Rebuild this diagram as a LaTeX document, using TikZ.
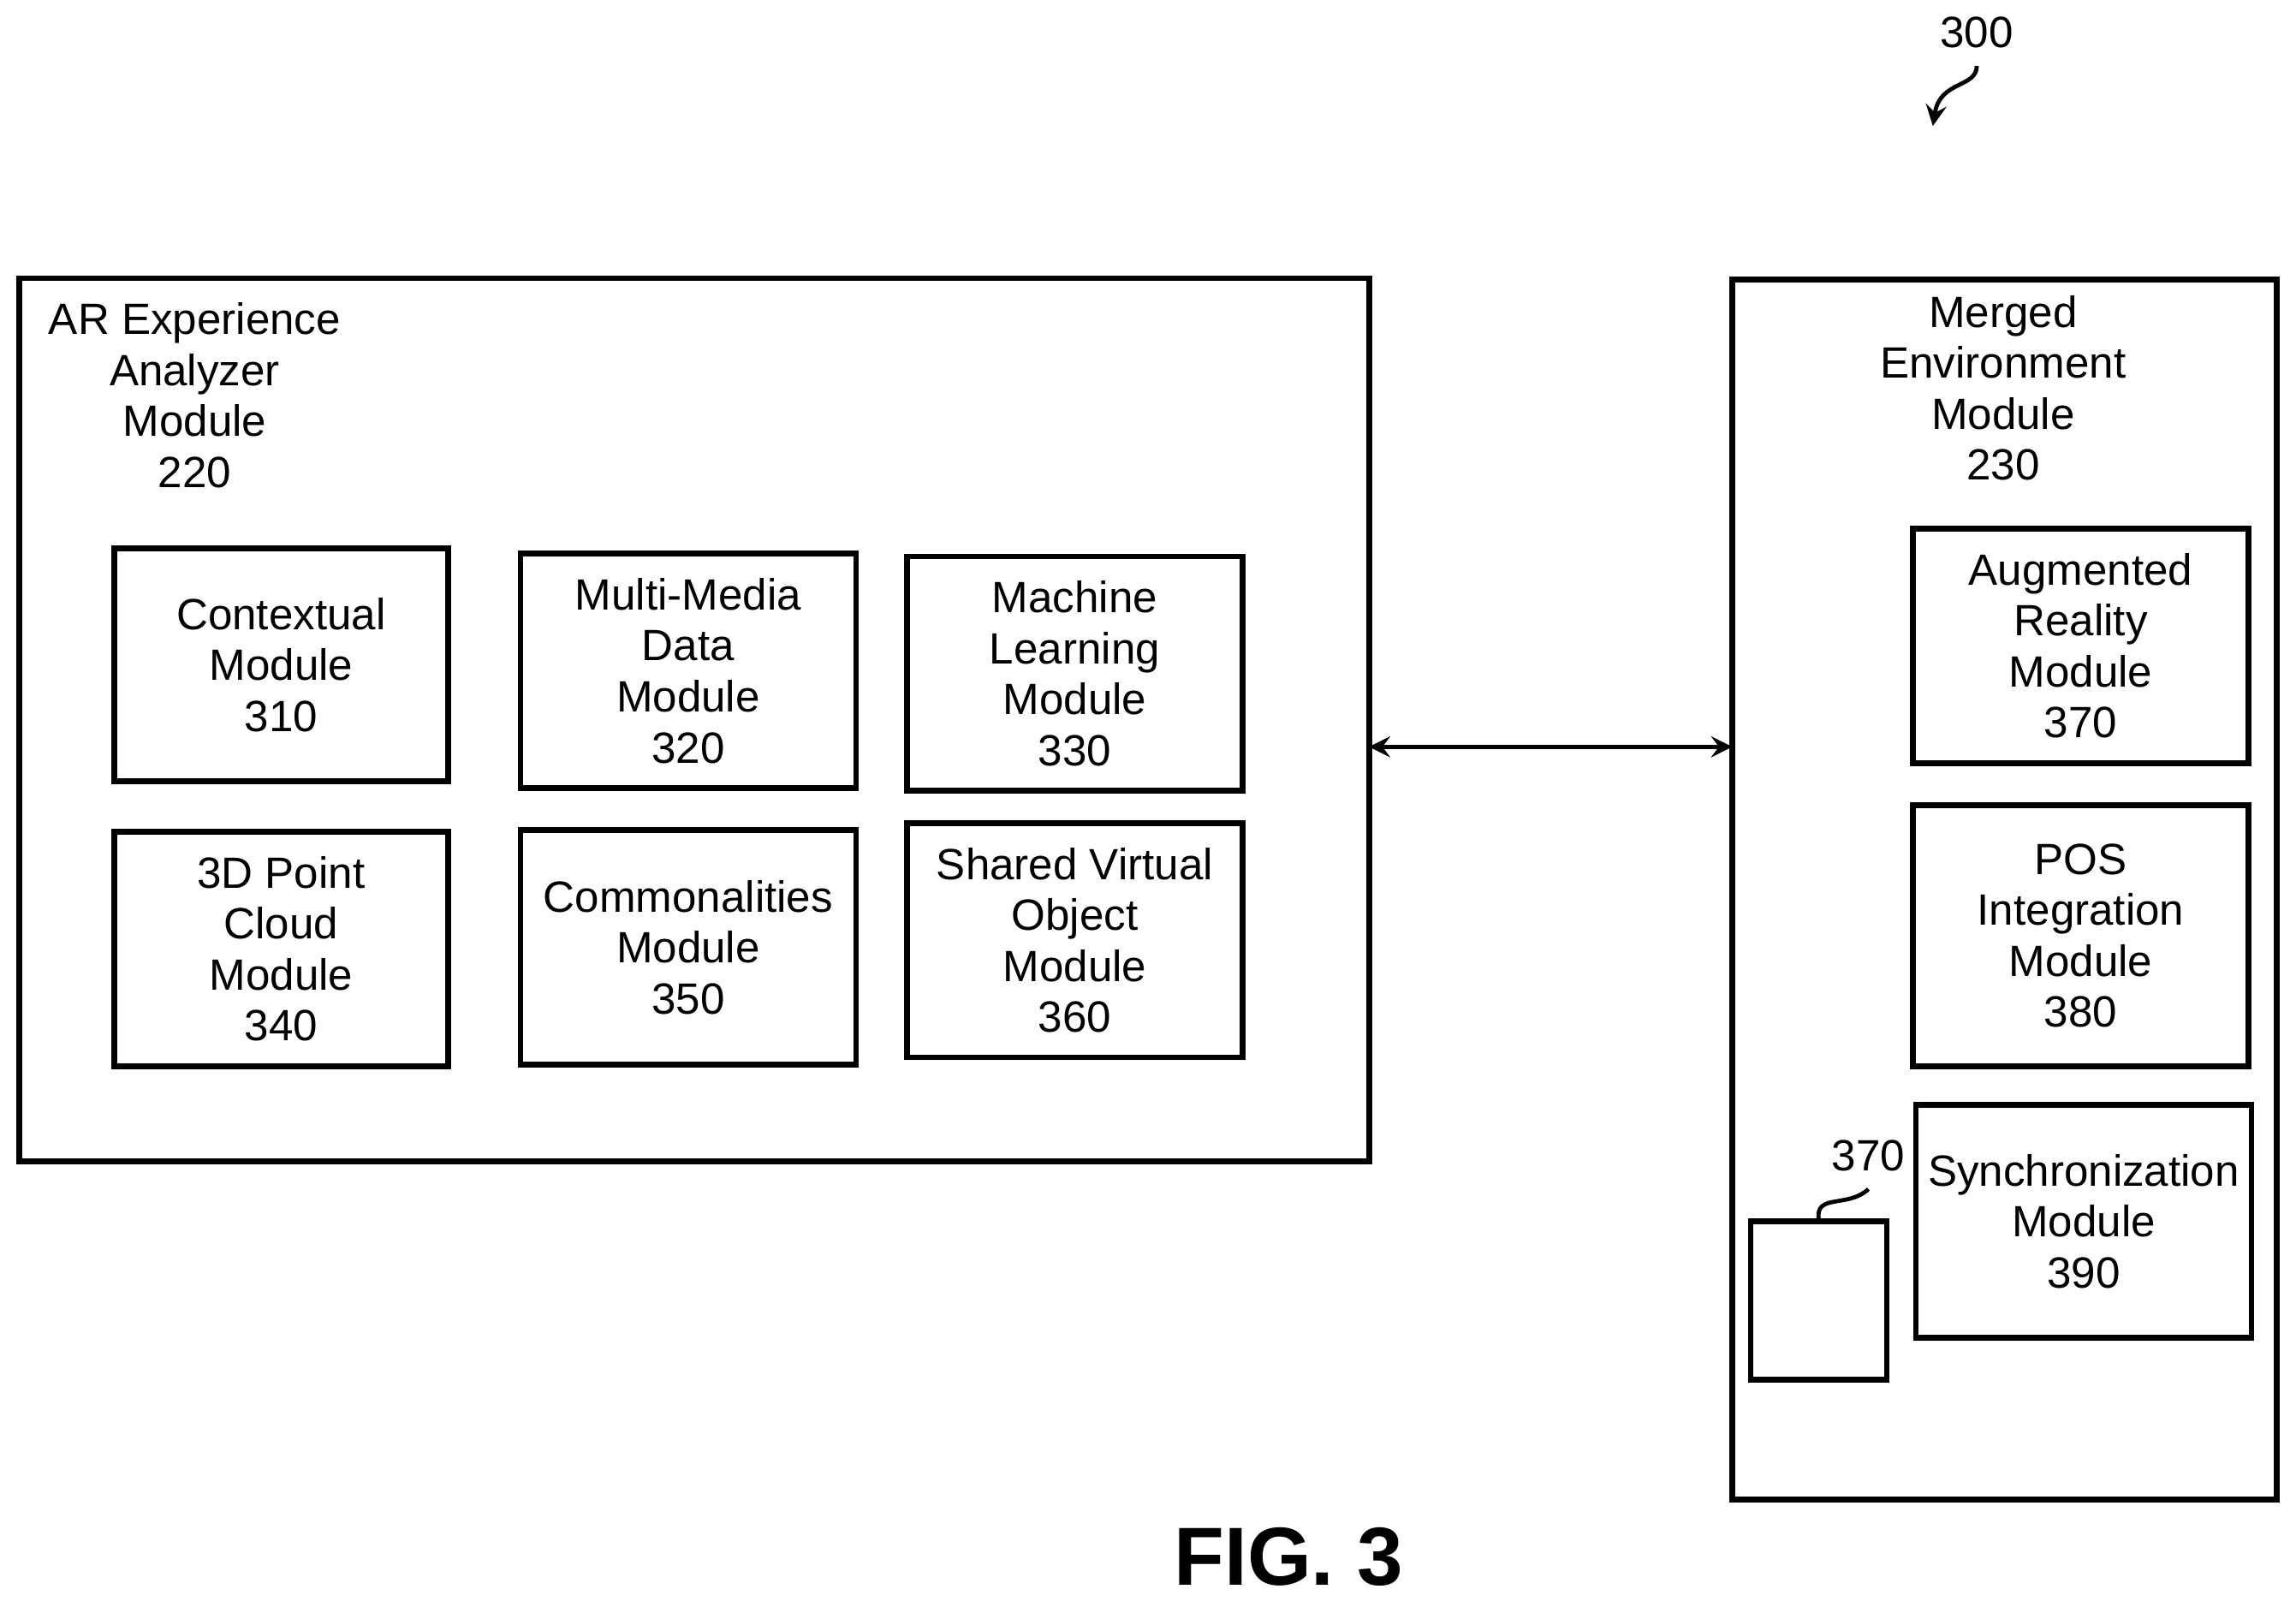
\documentclass[tikz,border=0pt]{standalone}
\usepackage{fontspec}
\setmainfont{Liberation Sans}
\usetikzlibrary{shapes.geometric}
\begin{document}
\begin{tikzpicture}[x=0.01cm,y=-0.01cm,
  font=\fontsize{8.5}{9.9}\selectfont,
  module/.style={draw, line width=1.1pt, align=center, inner sep=0pt},
  frame/.style={draw, line width=1.1pt},
  title/.style={align=center}]
    \useasboundingbox (0,0) rectangle (1568,1093);

    % outer boxes
    \draw [frame] (13, 190) rectangle (935, 793);
    \draw [frame] (1183, 191) rectangle (1555, 1024);
    \node[title] (ar) at (133, 270) {AR Experience\\Analyzer\\Module\\220};
    \node[title] (me) at (1368, 265) {Merged\\Environment\\Module\\230};

    % modules of 220
    \node[module, minimum width=2.28cm, minimum height=1.59cm] (m310) at (192, 454) {Contextual\\Module\\310};
    \node[module, minimum width=2.29cm, minimum height=1.6cm] (m320) at (470, 458) {Multi-Media\\Data\\Module\\320};
    \node[module, minimum width=2.29cm, minimum height=1.6cm] (m330) at (734, 460) {Machine\\Learning\\Module\\330};
    \node[module, minimum width=2.28cm, minimum height=1.6cm] (m340) at (192, 648) {3D Point\\Cloud\\Module\\340};
    \node[module, minimum width=2.29cm, minimum height=1.6cm] (m350) at (470, 647) {Commonalities\\Module\\350};
    \node[module, minimum width=2.29cm, minimum height=1.6cm] (m360) at (734, 642) {Shared Virtual\\Object\\Module\\360};

    % modules of 230
    \node[module, minimum width=2.29cm, minimum height=1.6cm] (m370) at (1421, 441) {Augmented\\Reality\\Module\\370};
    \node[module, minimum width=2.29cm, minimum height=1.78cm] (m380) at (1421, 639) {POS\\Integration\\Module\\380};
    \node[module, minimum width=2.29cm, minimum height=1.59cm] (m390) at (1423, 834) {Synchronization\\Module\\390};

    % database
    \node[cylinder, shape border rotate=90, draw, line width=1.1pt, aspect=0.35,
          minimum width=0.93cm, minimum height=1.08cm, inner sep=0pt] (db) at (1242, 889) {};
    \node (dbl) at (1276, 789) {370};
    \draw[line width=0.8pt] (db.north) .. controls (1240, 815) and (1262, 825) .. (dbl.south);

    % link between modules
    \coordinate (pl) at (935, 510);
    \coordinate (pr) at (1183, 510);
    \draw[<->, >=stealth, line width=0.8pt] (pl) -- (pr);

    % reference numeral
    \node (ref) at (1350, 22) {300};
    \coordinate (refend) at (1320, 86);
    \draw[->, >=stealth, line width=0.8pt] (ref.south) .. controls (1350, 60) and (1325, 55) .. (refend);

    \node[font=\fontsize{16}{18}\selectfont\bfseries] (fig) at (880, 1063) {FIG. 3};
\end{tikzpicture}
\end{document}
